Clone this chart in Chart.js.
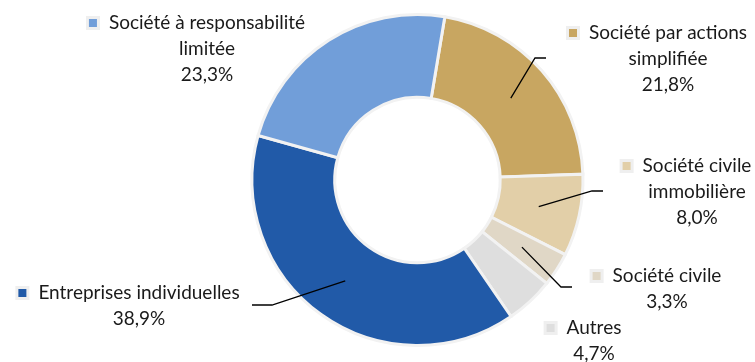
<!DOCTYPE html>
<html lang="fr">
<head>
<meta charset="UTF-8">
<title>Répartition par forme juridique</title>
<script src="https://cdn.jsdelivr.net/npm/chart.js"></script>
<style>
  html, body { margin: 0; padding: 0; background: #ffffff; }
  #wrap { width: 755px; height: 362px; position: relative; }
</style>
</head>
<body>
<div id="wrap"><canvas id="chart"></canvas></div>
<script>
// data
const categories = [
  'Société par actions simplifiée',
  'Société civile immobilière',
  'Société civile',
  'Autres',
  'Entreprises individuelles',
  'Société à responsabilité limitée'
];
const values = [21.8, 8.0, 3.3, 4.7, 38.9, 23.3];
const colors = ['#c8a661', '#e2cfa8', '#e0d7c6', '#dedede', '#215aa8', '#719ed9'];

// label text lines (line 1 carries the legend marker)
const labelLines = [
  ['Société par actions', 'simplifiée'],
  ['Société civile', 'immobilière'],
  ['Société civile'],
  ['Autres'],
  ['Entreprises individuelles'],
  ['Société à responsabilité', 'limitée']
];
// label block centre x, first line centre y
const labelPos = [[668, 33], [697, 166], [667, 276], [594, 328], [139, 293], [207, 23]];
// leader lines: elbow point and end point (null = no leader)
const leaders = [
  [[535, 58], [546, 58]],
  [[592, 191], [603, 191]],
  [[561, 287], [572, 287]],
  null,
  [[272, 305], [252, 305]],
  null
];

const fmt = v => v.toFixed(1).replace('.', ',') + '%';

const labelPlugin = {
  id: 'labels',
  afterDatasetsDraw(chart) {
    const ctx = chart.ctx;
    const meta = chart.getDatasetMeta(0);
    ctx.save();
    ctx.font = '19px Lato, "Open Sans", sans-serif';
    ctx.fillStyle = '#1a1a1a';
    ctx.textAlign = 'center';
    ctx.textBaseline = 'middle';
    meta.data.forEach((arc, i) => {
      const p = arc.getProps(['x', 'y', 'startAngle', 'endAngle', 'innerRadius', 'outerRadius'], true);
      const mid = (p.startAngle + p.endAngle) / 2;
      const r = (p.innerRadius + p.outerRadius) / 2;
      const ax = p.x + Math.cos(mid) * r;
      const ay = p.y + Math.sin(mid) * r;
      const ld = leaders[i];
      if (ld) {
        ctx.beginPath();
        ctx.strokeStyle = '#000000';
        ctx.lineWidth = 1.3;
        ctx.moveTo(ax, ay);
        ctx.lineTo(ld[0][0], ld[0][1]);
        ctx.lineTo(ld[1][0], ld[1][1]);
        ctx.stroke();
      }
      const [cx, cy] = labelPos[i];
      const lines = labelLines[i].concat([fmt(values[i])]);
      lines.forEach((t, k) => ctx.fillText(t, cx, cy + k * 26));
      // legend marker
      const w = ctx.measureText(lines[0]).width;
      const mx = cx - w / 2 - 16;
      ctx.fillStyle = '#efefef';
      ctx.fillRect(mx - 7, cy - 7, 14, 14);
      ctx.fillStyle = colors[i];
      ctx.fillRect(mx - 4, cy - 4, 8, 8);
      ctx.fillStyle = '#1a1a1a';
    });
    ctx.restore();
  }
};

new Chart(document.getElementById('chart'), {
  type: 'doughnut',
  data: {
    labels: categories,
    datasets: [{
      data: values,
      backgroundColor: colors,
      borderColor: '#f2f2f2',
      borderWidth: 3,
      borderJoinStyle: 'miter'
    }]
  },
  options: {
    responsive: true,
    maintainAspectRatio: false,
    animation: false,
    rotation: 9.5,
    cutout: '50%',
    layout: { padding: { left: 80, right: 0, top: 13, bottom: 15 } },
    plugins: {
      legend: { display: false },
      tooltip: { enabled: false }
    }
  },
  plugins: [labelPlugin]
});
</script>
</body>
</html>
